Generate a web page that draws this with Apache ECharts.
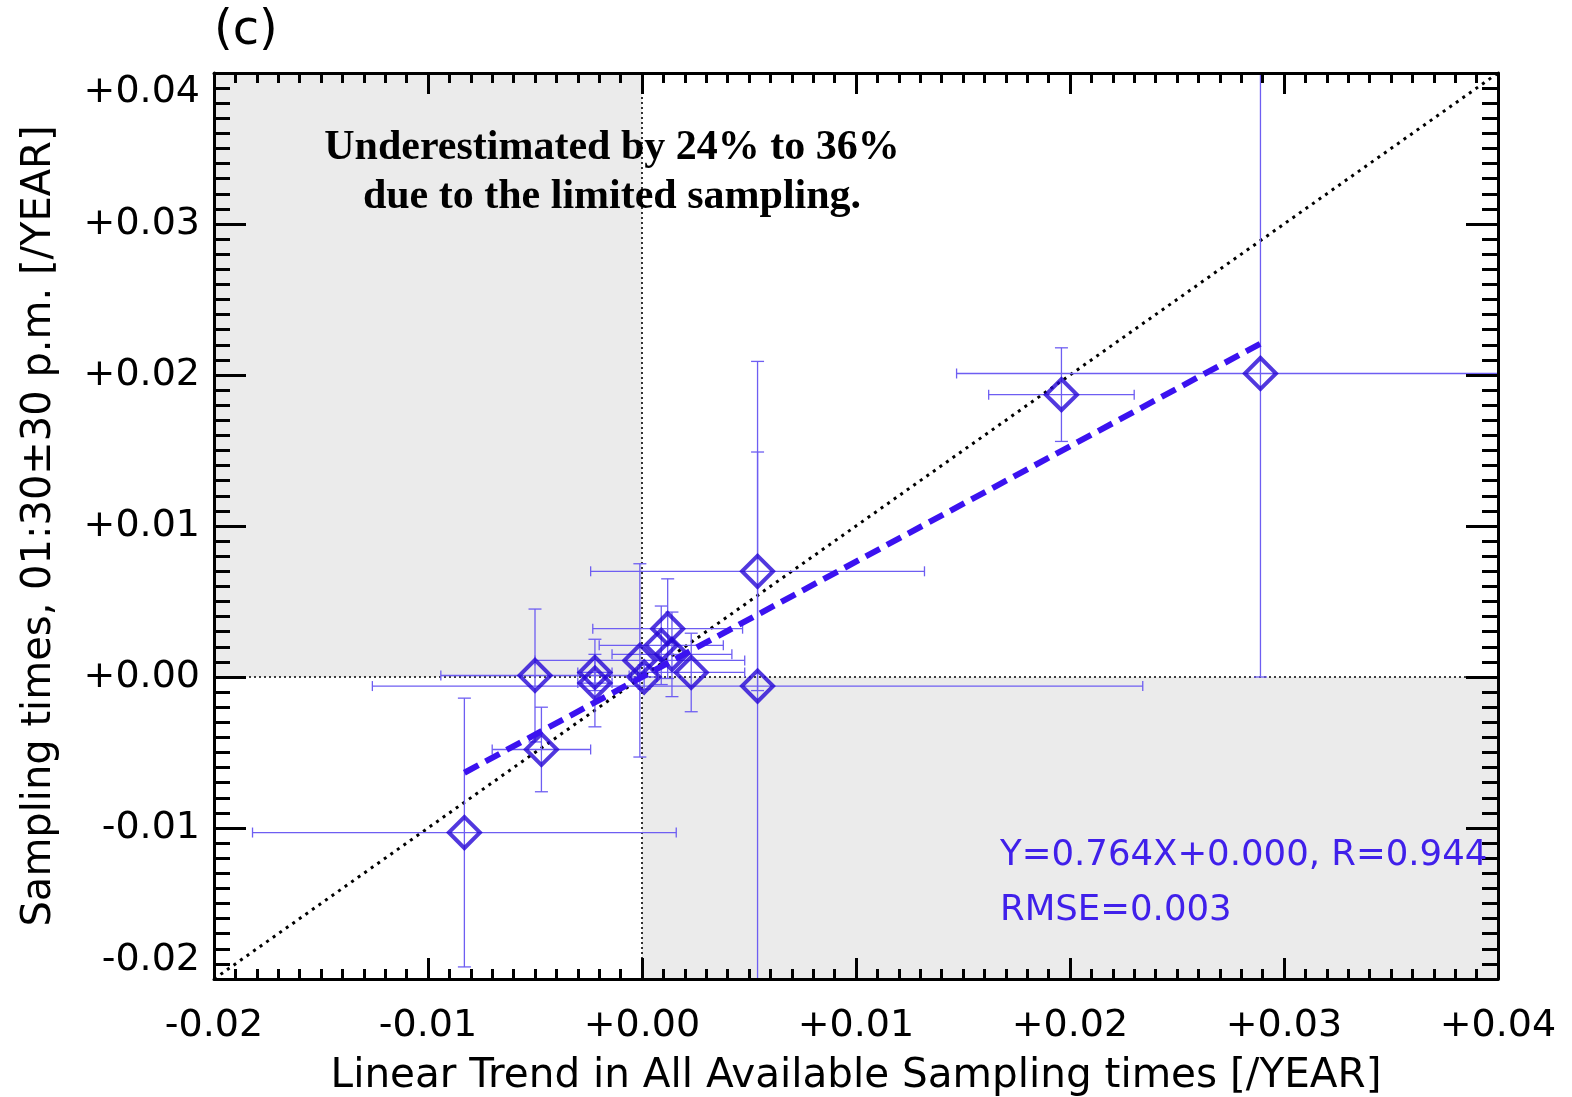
<!DOCTYPE html>
<html>
<head>
<meta charset="utf-8">
<script src="https://cdn.jsdelivr.net/npm/echarts@6/dist/echarts.min.js"></script>
<style>
html,body{margin:0;padding:0;background:#fff;}
#chart{width:1572px;height:1097px;}
</style>
</head>
<body>
<div id="chart"></div>
<script>
// Linear trend in all available sampling times (x) and 01:30±30 p.m. sampling (y), /YEAR
const trendAll     = [-0.0083, -0.0047, -0.0050, -0.0022, -0.0022, -0.0001, 0.0001, 0.0009, 0.0012, 0.0014, 0.0023, 0.0054, 0.0054, 0.0196, 0.0289];
const trendSampled = [-0.0103, -0.0048,  0.0001,  0.0003, -0.0004,  0.0011, 0.0000, 0.0021, 0.0032, 0.0015, 0.0003, 0.0070, -0.0006, 0.0187, 0.0201];
const errAll       = [ 0.0099,  0.0023,  0.0044,  0.0008,  0.0008,  0.0049, 0.0006, 0.0029, 0.0035, 0.0028, 0.0025, 0.0078, 0.0180, 0.0034, 0.0142];
const errSampled   = [ 0.0089,  0.0028,  0.0044,  0.0012,  0.0029,  0.0064, 0.0008, 0.0026, 0.0033, 0.0028, 0.0026, 0.0079, 0.0215, 0.0031, 0.0201];
const fitSlope = 0.764, fitIntercept = 0.000, fitR = 0.944, fitRMSE = 0.003;
const axisMin = -0.02, axisMax = 0.04, axisStep = 0.01;
const xTitle = 'Linear Trend in All Available Sampling times [/YEAR]';
const yTitle = 'Sampling times, 01:30\u00b130 p.m. [/YEAR]';
const panelLabel = '(c)';
const noteLines = ['Underestimated by 24% to 36%', 'due to the limited sampling.'];

const SANS = 'DejaVu Sans';
const fmt = v => { const r = Math.round(v * 100) / 100; return (r >= 0 ? '+' : '-') + Math.abs(r).toFixed(2); };

const points = trendAll.map((x, i) => [x, trendSampled[i]]);
const errData = trendAll.map((x, i) => [x, trendSampled[i], errAll[i], errSampled[i]]);
const xLo = Math.min(...trendAll), xHi = Math.max(...trendAll);
const fitLine = [[xLo, fitSlope * xLo + fitIntercept], [xHi, fitSlope * xHi + fitIntercept]];

function makeAxis(kind, pos, showLabel) {
  const isX = kind === 'x';
  const lab = { show: true, formatter: fmt, color: '#000', fontSize: 38, fontFamily: SANS, margin: isX ? 28 : 14 };
  if (!isX) { lab.verticalAlignMinLabel = 'bottom'; lab.verticalAlignMaxLabel = 'top'; }
  return {
    type: 'value', position: pos, min: axisMin, max: axisMax, interval: axisStep, z: 10,
    axisLine: { show: true, onZero: false, lineStyle: { color: '#000', width: 3 } },
    axisTick: { show: true, inside: true, length: isX ? 21 : 32, lineStyle: { color: '#000', width: 3 } },
    minorTick: { show: true, splitNumber: 10, length: isX ? 10 : 16, lineStyle: { color: '#000', width: 3 } },
    splitLine: { show: false }, minorSplitLine: { show: false },
    axisLabel: showLabel ? lab : { show: false },
  };
}

const xMain = Object.assign(makeAxis('x', 'bottom', true), {
  name: xTitle, nameLocation: 'middle', nameGap: 77,
  nameTextStyle: { fontSize: 40.5, fontFamily: SANS, color: '#000' }
});
const yMain = Object.assign(makeAxis('y', 'left', true), {
  name: yTitle, nameLocation: 'middle', nameGap: 154,
  nameTextStyle: { fontSize: 40, fontFamily: SANS, color: '#000' }
});

const option = {
  backgroundColor: '#fff',
  animation: false,
  grid: { left: 214, top: 73, right: 74, bottom: 118, containLabel: false, outerBoundsMode: 'none' },
  xAxis: [xMain, makeAxis('x', 'top', false)],
  yAxis: [yMain, makeAxis('y', 'right', false)],
  series: [
    { type: 'line', data: [], z: 0, silent: true,
      markArea: { silent: true, itemStyle: { color: '#ebebeb' },
        data: [
          [{ coord: [axisMin, 0] }, { coord: [0, axisMax] }],
          [{ coord: [0, axisMin] }, { coord: [axisMax, 0] }]
        ] } },
    { type: 'line', data: [[axisMin, 0], [axisMax, 0]], symbol: 'none', silent: true, z: 1,
      lineStyle: { color: '#000', width: 1.6, type: [2, 3] } },
    { type: 'line', data: [[0, axisMin], [0, axisMax]], symbol: 'none', silent: true, z: 1,
      lineStyle: { color: '#000', width: 1.6, type: [2, 3] } },
    { type: 'line', data: [[axisMin, axisMin], [axisMax, axisMax]], symbol: 'none', silent: true, z: 2,
      lineStyle: { color: '#000', width: 3, type: [3, 5] } },
    { type: 'custom', data: errData, z: 3, silent: true,
      renderItem: function (params, api) {
        const cs = params.coordSys;
        const x = api.value(0), y = api.value(1), ex = api.value(2), ey = api.value(3);
        const c = api.coord([x, y]);
        const l = api.coord([x - ex, y])[0], r = api.coord([x + ex, y])[0];
        const t = api.coord([x, y + ey])[1], b = api.coord([x, y - ey])[1];
        const x0 = cs.x, x1 = cs.x + cs.width, y0 = cs.y, y1 = cs.y + cs.height;
        const cl = Math.max(l, x0), cr = Math.min(r, x1), ct = Math.max(t, y0), cb = Math.min(b, y1);
        const st = { stroke: '#6e5ef2', lineWidth: 1.3 };
        const ch = [
          { type: 'line', shape: { x1: cl, y1: c[1], x2: cr, y2: c[1] }, style: st },
          { type: 'line', shape: { x1: c[0], y1: ct, x2: c[0], y2: cb }, style: st }
        ];
        const hc = 5, vc = 6.5;
        if (l >= x0) ch.push({ type: 'line', shape: { x1: l, y1: c[1] - hc, x2: l, y2: c[1] + hc }, style: st });
        if (r <= x1) ch.push({ type: 'line', shape: { x1: r, y1: c[1] - hc, x2: r, y2: c[1] + hc }, style: st });
        if (t >= y0) ch.push({ type: 'line', shape: { x1: c[0] - vc, y1: t, x2: c[0] + vc, y2: t }, style: st });
        if (b <= y1) ch.push({ type: 'line', shape: { x1: c[0] - vc, y1: b, x2: c[0] + vc, y2: b }, style: st });
        return { type: 'group', children: ch };
      } },
    { type: 'scatter', data: points, symbol: 'rect', symbolSize: 22, symbolRotate: 45, z: 4, silent: true,
      itemStyle: { color: 'rgba(0,0,0,0)', borderColor: '#2606d6', borderWidth: 4 } },
    { type: 'line', data: fitLine, symbol: 'none', z: 5, silent: true,
      lineStyle: { color: '#3b12f0', width: 6, type: [16, 8] } }
  ],
  graphic: [
    { type: 'text', left: 214, top: 8, z: 100, style: { text: panelLabel, font: '48px "' + SANS + '"', fill: '#000' } },
    { type: 'text', x: 612, y: 148, z: 100, style: { text: noteLines[0], font: 'bold 42px "Liberation Serif"', fill: '#000', align: 'center', verticalAlign: 'middle' } },
    { type: 'text', x: 612, y: 197, z: 100, style: { text: noteLines[1], font: 'bold 42px "Liberation Serif"', fill: '#000', align: 'center', verticalAlign: 'middle' } },
    { type: 'text', x: 1000, y: 856, z: 100, style: { text: 'Y=' + fitSlope.toFixed(3) + 'X+' + fitIntercept.toFixed(3) + ', R=' + fitR.toFixed(3), font: '35.5px "' + SANS + '"', fill: '#4020ea', verticalAlign: 'middle' } },
    { type: 'text', x: 1000, y: 911, z: 100, style: { text: 'RMSE=' + fitRMSE.toFixed(3), font: '35.5px "' + SANS + '"', fill: '#4020ea', verticalAlign: 'middle' } }
  ]
};

const chart = echarts.init(document.getElementById('chart'), null, { renderer: 'canvas' });
chart.setOption(option);
</script>
</body>
</html>
